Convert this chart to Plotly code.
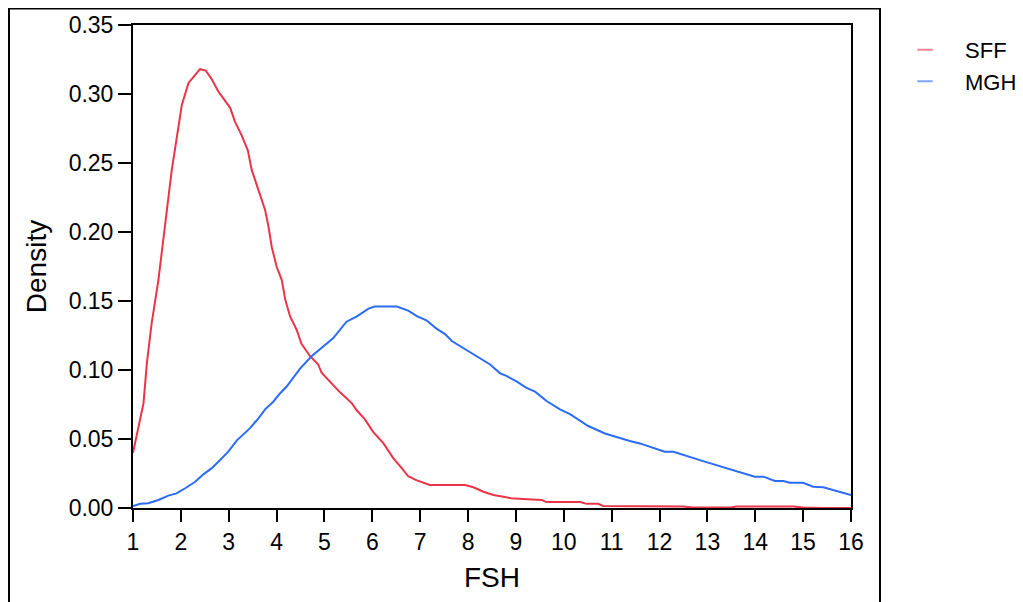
import plotly.graph_objects as go

# valores
sff_x = [1.0, 1.22, 1.29, 1.39, 1.53, 1.69, 1.81, 2.02, 2.16, 2.40, 2.52, 2.64, 2.78, 3.03, 3.13,
         3.27, 3.40, 3.48, 3.62, 3.69, 3.76, 3.83, 3.90, 4.00, 4.11, 4.18, 4.28, 4.42, 4.52, 4.70,
         4.87, 4.94, 5.11, 5.32, 5.57, 5.67, 5.85, 6.02, 6.23, 6.44, 6.61, 6.75, 6.93, 7.20, 7.94,
         8.11, 8.32, 8.53, 8.74, 8.90, 9.15, 9.54, 9.64, 10.34, 10.48, 10.72, 10.82, 12.5, 12.7,
         13.5, 13.6, 14.8, 15.0, 15.4, 16.0]
sff_y = [0.040, 0.076, 0.105, 0.134, 0.165, 0.209, 0.245, 0.292, 0.308, 0.318, 0.317, 0.311, 0.302,
         0.290, 0.280, 0.270, 0.259, 0.245, 0.230, 0.223, 0.216, 0.204, 0.189, 0.175, 0.165, 0.151,
         0.139, 0.129, 0.119, 0.110, 0.104, 0.098, 0.092, 0.084, 0.076, 0.071, 0.064, 0.055, 0.047,
         0.036, 0.029, 0.023, 0.020, 0.0167, 0.0167, 0.015, 0.0118, 0.0094, 0.0082, 0.007, 0.0065,
         0.0058, 0.0043, 0.0043, 0.003, 0.003, 0.0015, 0.001, 0.0003, 0.0003, 0.001, 0.001, 0.0004,
         0.0, 0.0]

mgh_x = [1.0, 1.15, 1.32, 1.53, 1.74, 1.91, 2.09, 2.30, 2.47, 2.64, 2.82, 2.99, 3.17, 3.44, 3.62,
         3.76, 3.93, 4.07, 4.21, 4.32, 4.49, 4.73, 5.18, 5.46, 5.67, 5.92, 6.05, 6.51, 6.75, 6.93,
         7.13, 7.34, 7.52, 7.66, 7.90, 8.18, 8.46, 8.67, 8.80, 9.02, 9.22, 9.40, 9.64, 9.92, 10.13,
         10.51, 10.86, 11.38, 11.59, 12.11, 12.29, 12.91, 13.26, 13.68, 13.99, 14.17, 14.41, 14.59,
         14.72, 15.0, 15.21, 15.42, 15.63, 15.7, 16.0]
mgh_y = [0.0015, 0.003, 0.0034, 0.0058, 0.009, 0.0106, 0.0143, 0.019, 0.0244, 0.0287, 0.0348,
         0.0408, 0.049, 0.0577, 0.065, 0.0715, 0.077, 0.083, 0.088, 0.093, 0.101, 0.110, 0.123,
         0.135, 0.1387, 0.1445, 0.146, 0.146, 0.143, 0.139, 0.136, 0.130, 0.126, 0.121, 0.116,
         0.110, 0.104, 0.0976, 0.0957, 0.0915, 0.087, 0.0843, 0.0775, 0.0715, 0.068, 0.0594,
         0.054, 0.0486, 0.0468, 0.0408, 0.0408, 0.034, 0.0304, 0.0256, 0.0227, 0.0227, 0.0196,
         0.0196, 0.0183, 0.0183, 0.0154, 0.015, 0.013, 0.0126, 0.0094]

series = ["SFF", "MGH"]
colores = ["rgb(236,52,72)", "rgb(42,108,246)"]
colores_leyenda = ["rgba(236,52,72,0.6)", "rgba(42,108,246,0.6)"]

fig = go.Figure()
for nombre, xs, ys, c in [("SFF", sff_x, sff_y, colores[0]), ("MGH", mgh_x, mgh_y, colores[1])]:
    fig.add_trace(go.Scatter(x=xs, y=ys, mode="lines", name=nombre,
                             line=dict(color=c, width=2), showlegend=False))

# entradas de leyenda con un trazo corto
for nombre, c in zip(series, colores_leyenda):
    fig.add_trace(go.Scatter(x=[None], y=[None], mode="markers", name=nombre,
                             marker=dict(symbol="line-ew", size=11,
                                         line=dict(color=c, width=2))))

fuente = dict(family="Liberation Sans, Arial, sans-serif", size=23, color="black")

# la página añade 8 px de margen, por eso la figura es algo más pequeña
fig.update_layout(
    width=1015, height=594,
    margin=dict(l=125, r=172, t=17, b=94, autoexpand=False),
    paper_bgcolor="white", plot_bgcolor="white",
    font=fuente,
    legend=dict(x=1.0474, y=0.992, xanchor="left", yanchor="top",
                font=dict(size=22), bgcolor="rgba(0,0,0,0)", itemwidth=70),
    shapes=[dict(type="rect", xref="paper", yref="paper",
                 x0=-0.1727, x1=1.0404, y0=-0.4, y1=1.034,
                 line=dict(color="black", width=2), layer="below")],
)
fig.update_xaxes(range=[1, 16], tickmode="linear", tick0=1, dtick=1, automargin=False,
                 showgrid=False, zeroline=False, showline=True, linecolor="black",
                 linewidth=2, mirror=True, ticks="outside", ticklen=12, tickwidth=2,
                 tickcolor="black", tickfont=dict(size=23), title=dict(text="FSH", standoff=14))
fig.update_yaxes(range=[0, 0.35], tickmode="linear", tick0=0, dtick=0.05, tickformat=".2f",
                 automargin=False,
                 showgrid=False, zeroline=False, showline=True, linecolor="black",
                 linewidth=2, mirror=True, ticks="outside", ticklen=13, tickwidth=2,
                 tickcolor="black", tickfont=dict(size=23), title=dict(text="Density", standoff=14))

fig.write_html("out.html")
